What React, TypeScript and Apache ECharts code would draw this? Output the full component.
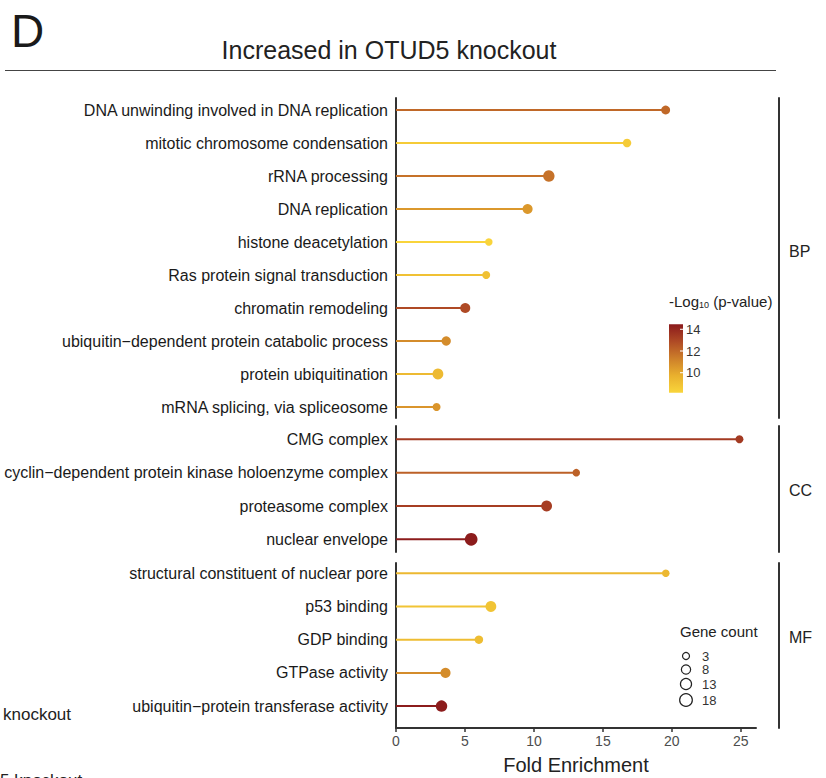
import React, { useEffect, useRef } from 'react';
import * as echarts from 'echarts';

const FONT = '"Liberation Sans", Arial, Helvetica, sans-serif';

const bpTerms = [
  'DNA unwinding involved in DNA replication',
  'mitotic chromosome condensation',
  'rRNA processing',
  'DNA replication',
  'histone deacetylation',
  'Ras protein signal transduction',
  'chromatin remodeling',
  'ubiquitin−dependent protein catabolic process',
  'protein ubiquitination',
  'mRNA splicing, via spliceosome',
];
const bpFold = [19.55, 16.75, 11.08, 9.54, 6.73, 6.54, 5.02, 3.64, 3.04, 2.94];
const bpLogP = [12.0, 8.6, 11.7, 10.5, 8.2, 9.0, 12.9, 10.9, 9.3, 10.6];
const bpCount = [7, 6, 14, 10, 4, 5, 10, 8, 12, 5];

const ccTerms = [
  'CMG complex',
  'cyclin−dependent protein kinase holoenzyme complex',
  'proteasome complex',
  'nuclear envelope',
];
const ccFold = [24.9, 13.07, 10.92, 5.45];
const ccLogP = [13.4, 12.2, 13.3, 14.4];
const ccCount = [5, 4, 12, 18];

const mfTerms = [
  'structural constituent of nuclear pore',
  'p53 binding',
  'GDP binding',
  'GTPase activity',
  'ubiquitin−protein transferase activity',
];
const mfFold = [19.56, 6.88, 6.01, 3.59, 3.3];
const mfLogP = [9.4, 8.9, 9.2, 10.9, 14.4];
const mfCount = [4, 12, 6, 10, 14];

const xTicks = [0, 5, 10, 15, 20, 25];
const colorTicks = [10, 12, 14];
const sizeTicks = [3, 8, 13, 18];
const LOGP_MIN = 8.16;
const LOGP_MAX = 14.46;
const gradientColors = ['#F9D53B', '#E9B02E', '#CD7F2A', '#AF4A25', '#8B1A1C'];

const sizeFn = (c: number) => Math.sqrt(26.6 + 7.47 * c);

const panels = [
  { name: 'BP', terms: bpTerms, fold: bpFold, logp: bpLogP, count: bpCount, top: 98, height: 320, min: -0.364, max: 9.333, labelY: 251 },
  { name: 'CC', terms: ccTerms, fold: ccFold, logp: ccLogP, count: ccCount, top: 426, height: 126, min: -0.4, max: 3.38, labelY: 490 },
  { name: 'MF', terms: mfTerms, fold: mfFold, logp: mfLogP, count: mfCount, top: 563, height: 165, min: -0.31, max: 4.66, labelY: 637 },
];

export default function App() {
  const ref = useRef<HTMLDivElement>(null);
  useEffect(() => {
    if (!ref.current) return;
    const chart = echarts.init(ref.current, null, { renderer: 'svg' });

    const grids: any[] = [];
    const xAxes: any[] = [];
    const yAxes: any[] = [];
    const rightAxes: any[] = [];
    const series: any[] = [];

    panels.forEach((p, i) => {
      grids.push({ left: 396, width: 360, top: p.top, height: p.height });
      const last = i === panels.length - 1;
      xAxes.push({
        gridIndex: i,
        type: 'value',
        position: 'bottom',
        min: 0,
        max: 26.1,
        show: last,
        splitLine: { show: false },
        axisLine: { show: true, onZero: false, lineStyle: { color: '#333', width: 2 } },
        axisTick: { show: true, length: 4, lineStyle: { color: '#333', width: 1.5 }, customValues: xTicks },
        axisLabel: { customValues: xTicks, color: '#4d4d4d', fontSize: 14, margin: 6, fontFamily: FONT },
        name: last ? 'Fold Enrichment' : '',
        nameLocation: 'middle',
        nameGap: 27,
        nameTextStyle: { fontSize: 20, color: '#222', fontFamily: FONT },
      });
      const idx = p.terms.map((_, k) => k);
      yAxes.push({
        gridIndex: i,
        type: 'value',
        inverse: true,
        min: p.min,
        max: p.max,
        splitLine: { show: false },
        axisTick: { show: false },
        axisLine: { show: true, onZero: false, lineStyle: { color: '#333', width: 2 } },
        axisLabel: {
          customValues: idx,
          formatter: (v: number) => p.terms[Math.round(v)] ?? '',
          color: '#1a1a1a',
          fontSize: 16,
          margin: 8,
          fontFamily: FONT,
        },
      });
      rightAxes.push({
        gridIndex: i,
        type: 'value',
        position: 'right',
        offset: 23,
        inverse: true,
        min: p.min,
        max: p.max,
        splitLine: { show: false },
        axisTick: { show: false },
        axisLabel: { show: false },
        axisLine: { show: true, onZero: false, lineStyle: { color: '#333', width: 2 } },
      });
      const data = p.terms.map((_, k) => [p.fold[k], k, p.logp[k], p.count[k]]);
      series.push({
        type: 'custom',
        xAxisIndex: i,
        yAxisIndex: i,
        encode: { x: 0, y: 1 },
        z: 2,
        data,
        renderItem: (params: any, api: any) => {
          const y = api.value(1);
          const p0 = api.coord([0, y]);
          const p1 = api.coord([api.value(0), y]);
          return {
            type: 'line',
            shape: { x1: p0[0], y1: p0[1], x2: p1[0], y2: p1[1] },
            style: { stroke: api.visual('color'), lineWidth: 2 },
          };
        },
      });
      series.push({
        type: 'scatter',
        xAxisIndex: i,
        yAxisIndex: i,
        z: 3,
        data,
        symbol: 'circle',
        symbolSize: (v: number[]) => sizeFn(v[3]),
        itemStyle: { opacity: 1 },
      });
    });

    // colour bar legend
    const cbX = 669, cbTop = 324.3, cbH = 68.4, cbW = 14;
    const cbY = (v: number) => cbTop + ((LOGP_MAX - v) / (LOGP_MAX - LOGP_MIN)) * cbH;
    const graphic: any[] = [
      { type: 'text', x: 11, y: 8, style: { text: 'D', fontSize: 46, fontFamily: FONT, fill: '#1a1a1a' } },
      { type: 'text', x: 389, y: 50, style: { text: 'Increased in OTUD5 knockout', fontSize: 25, fontFamily: FONT, fill: '#222', align: 'center', verticalAlign: 'middle' } },
      { type: 'line', shape: { x1: 5, y1: 70.5, x2: 776, y2: 70.5 }, style: { stroke: '#444', lineWidth: 1.2 } },
      { type: 'text', x: 3, y: 714, style: { text: 'knockout', fontSize: 17, fontFamily: FONT, fill: '#222', verticalAlign: 'middle' } },
      { type: 'text', x: 0, y: 772, style: { text: '5 knockout', fontSize: 17, fontFamily: FONT, fill: '#222', verticalAlign: 'top' } },
      {
        type: 'text', x: 669, y: 301,
        style: {
          text: '{a|-Log}{s|10}{a| (p-value)}',
          verticalAlign: 'middle',
          fill: '#222',
          rich: {
            a: { fontSize: 15, fontFamily: FONT, fill: '#222', lineHeight: 17 },
            s: { fontSize: 9, fontFamily: FONT, fill: '#222', lineHeight: 9, verticalAlign: 'bottom' },
          },
        },
      },
      {
        type: 'rect',
        shape: { x: cbX, y: cbTop, width: cbW, height: cbH },
        style: {
          fill: {
            type: 'linear', x: 0, y: 0, x2: 0, y2: 1,
            colorStops: gradientColors.slice().reverse().map((c, k, arr) => ({ offset: k / (arr.length - 1), color: c })),
          },
        },
      },
    ];
    colorTicks.forEach((t) => {
      const y = cbY(t);
      graphic.push({ type: 'line', shape: { x1: cbX + cbW - 3, y1: y, x2: cbX + cbW, y2: y }, style: { stroke: '#fff', lineWidth: 1 } });
      graphic.push({ type: 'text', x: 686, y, style: { text: String(t), fontSize: 13, fontFamily: FONT, fill: '#333', verticalAlign: 'middle' } });
    });
    // gene count legend
    graphic.push({ type: 'text', x: 680, y: 631.5, style: { text: 'Gene count', fontSize: 15, fontFamily: FONT, fill: '#222', verticalAlign: 'middle' } });
    const legendY = [656, 669.5, 684, 700];
    sizeTicks.forEach((c, k) => {
      graphic.push({ type: 'circle', shape: { cx: 686, cy: legendY[k], r: sizeFn(c) / 2 }, style: { fill: '#fff', stroke: '#222', lineWidth: 1.2 } });
      graphic.push({ type: 'text', x: 702, y: legendY[k], style: { text: String(c), fontSize: 13, fontFamily: FONT, fill: '#333', verticalAlign: 'middle' } });
    });
    // strip labels
    panels.forEach((p) => {
      graphic.push({ type: 'text', x: 789, y: p.labelY, style: { text: p.name, fontSize: 16, fontFamily: FONT, fill: '#222', verticalAlign: 'middle' } });
    });

    chart.setOption({
      animation: false,
      backgroundColor: '#fff',
      textStyle: { fontFamily: FONT },
      grid: grids,
      xAxis: xAxes,
      yAxis: [...yAxes, ...rightAxes],
      visualMap: {
        type: 'continuous',
        show: false,
        min: LOGP_MIN,
        max: LOGP_MAX,
        dimension: 2,
        seriesIndex: series.map((_, k) => k),
        inRange: { color: gradientColors },
      },
      series,
      graphic,
    });
    return () => chart.dispose();
  }, []);
  return <div ref={ref} style={{ position: 'fixed', left: 0, top: 0, width: 826, height: 778, background: '#fff' }} />;
}
